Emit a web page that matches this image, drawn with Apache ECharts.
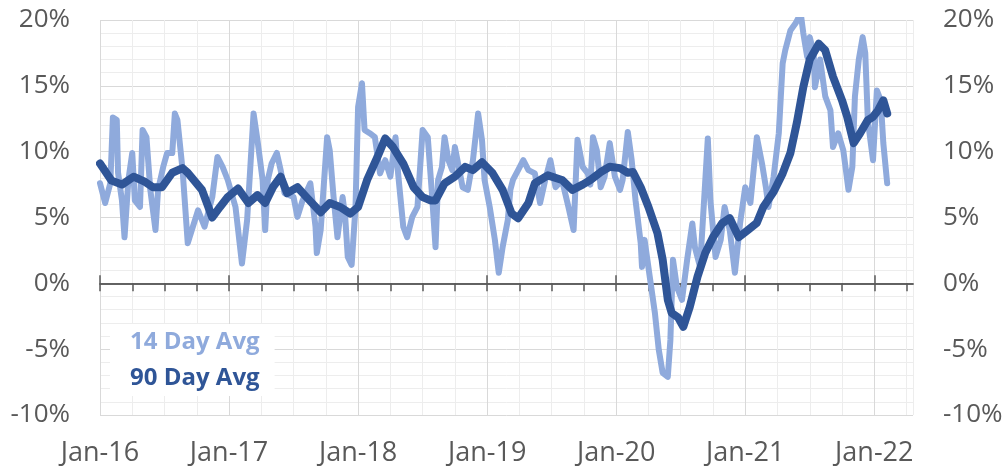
<!DOCTYPE html>
<html>
<head>
<meta charset="utf-8">
<script src="https://cdn.jsdelivr.net/npm/echarts@6/dist/echarts.min.js"></script>
<style>html,body{margin:0;padding:0;background:#fff}#c{width:1006px;height:470px}</style>
</head>
<body>
<div id="c"></div>
<script>
// Decimal-year positions and values (%)
const years14 = [2016.00,2016.04,2016.08,2016.10,2016.13,2016.14,2016.17,2016.19,2016.22,2016.25,2016.27,2016.31,2016.33,2016.36,2016.39,2016.43,2016.45,2016.49,2016.52,2016.56,2016.58,2016.60,2016.64,2016.68,2016.72,2016.76,2016.81,2016.87,2016.91,2016.95,2016.99,
2017.05,2017.10,2017.14,2017.19,2017.22,2017.26,2017.28,2017.30,2017.33,2017.37,2017.40,2017.43,2017.50,2017.53,2017.57,2017.63,2017.67,2017.68,2017.71,2017.76,2017.78,2017.81,2017.84,2017.88,2017.90,2017.92,2017.95,2017.98,
2018.00,2018.03,2018.05,2018.09,2018.13,2018.17,2018.21,2018.25,2018.29,2018.31,2018.35,2018.38,2018.42,2018.46,2018.50,2018.54,2018.57,2018.60,2018.62,2018.65,2018.67,2018.70,2018.73,2018.75,2018.78,2018.81,2018.85,2018.89,2018.93,2018.96,2018.98,
2019.02,2019.06,2019.09,2019.12,2019.16,2019.18,2019.20,2019.24,2019.28,2019.32,2019.37,2019.41,2019.45,2019.49,2019.53,2019.58,2019.63,2019.67,2019.70,2019.74,2019.78,2019.80,2019.82,2019.85,2019.88,2019.91,2019.95,2019.99,
2020.03,2020.05,2020.09,2020.12,2020.15,2020.19,2020.20,2020.22,2020.26,2020.30,2020.33,2020.36,2020.40,2020.42,2020.44,2020.47,2020.51,2020.55,2020.59,2020.61,2020.65,2020.71,2020.73,2020.77,2020.81,2020.84,2020.88,2020.92,2020.96,
2021.00,2021.04,2021.09,2021.13,2021.16,2021.18,2021.22,2021.26,2021.29,2021.31,2021.35,2021.39,2021.43,2021.45,2021.48,2021.50,2021.53,2021.54,2021.58,2021.62,2021.66,2021.68,2021.72,2021.76,2021.80,2021.83,2021.85,2021.88,2021.91,2021.93,2021.95,2021.99,
2022.02,2022.05,2022.07,2022.10];
const avg14 = [7.6,6.1,7.6,12.6,12.4,8.4,6.3,3.5,7.85,9.9,6.3,5.8,11.65,11.1,7.1,4.05,7.1,8.85,9.9,9.9,12.9,12.4,8.6,3.05,4.3,5.55,4.3,6.55,9.6,8.85,7.85,
5.8,1.5,4.8,12.9,10.9,7.85,4.05,7.85,9.1,9.9,8.6,6.85,6.55,5.05,6.3,7.6,4.3,2.3,4.05,11.1,10.1,6.55,3.5,6.55,5.05,2.0,1.4,5.8,
13.4,15.2,11.65,11.4,11.1,8.35,9.35,8.1,11.1,8.35,4.3,3.5,5.05,5.8,11.65,11.1,7.1,2.75,7.85,8.85,11.1,9.35,8.6,10.35,8.85,7.3,7.1,9.35,12.9,10.9,7.85,
5.8,3.3,0.8,2.75,4.8,7.1,7.85,8.6,9.35,8.6,8.35,6.1,7.85,9.35,7.3,7.85,5.8,4.05,10.9,8.85,8.35,7.5,11.1,10.1,7.3,8.1,10.65,8.1,
7.1,7.85,11.5,9.35,6.3,3.05,1.25,3.3,0.5,-2.25,-5.05,-6.8,-7.1,-4.3,1.8,-0.25,-1.25,1.8,4.55,2.75,1.25,11.0,6.3,2.0,3.3,5.8,4.05,0.8,4.55,
7.3,6.1,11.1,9.1,7.3,5.8,8.1,11.4,16.7,17.7,19.2,19.75,20.5,19.0,17.2,18.7,17.5,14.9,17.0,14.2,13.15,10.35,11.4,10.1,7.1,8.85,14.2,17.0,18.7,17.5,12.4,9.35,
14.65,13.9,10.65,7.6];

const years90 = [2016.00,2016.09,2016.17,2016.26,2016.35,2016.41,2016.48,2016.56,2016.64,2016.68,2016.79,2016.87,2016.93,2016.99,
2017.07,2017.15,2017.22,2017.28,2017.34,2017.40,2017.45,2017.53,2017.60,2017.71,2017.78,2017.86,2017.94,
2018.00,2018.07,2018.15,2018.21,2018.27,2018.35,2018.43,2018.50,2018.56,2018.60,2018.67,2018.75,2018.83,2018.89,2018.96,
2019.04,2019.12,2019.19,2019.24,2019.32,2019.37,2019.47,2019.58,2019.66,2019.74,2019.80,2019.88,2019.95,
2020.03,2020.09,2020.13,2020.19,2020.25,2020.32,2020.36,2020.40,2020.43,2020.48,2020.52,2020.57,2020.63,2020.69,2020.75,2020.82,2020.88,2020.95,
2021.02,2021.09,2021.14,2021.22,2021.29,2021.35,2021.40,2021.45,2021.50,2021.57,2021.62,2021.68,2021.75,2021.79,2021.84,2021.89,2021.95,2021.99,
2022.03,2022.07,2022.10];
const avg90 = [9.1,7.8,7.5,8.1,7.7,7.3,7.3,8.4,8.75,8.4,7.1,5.0,5.8,6.55,
7.2,6.1,6.7,6.1,7.3,8.1,6.85,7.3,6.55,5.4,6.1,5.8,5.3,
5.8,7.85,9.6,11.0,10.35,9.1,7.3,6.55,6.3,6.3,7.6,8.1,8.85,8.6,9.2,
8.4,7.1,5.3,4.95,6.1,7.6,8.2,7.85,7.1,7.5,7.85,8.45,8.85,
8.75,8.4,8.45,7.3,5.8,3.8,1.8,-1.25,-2.25,-2.6,-3.3,-1.8,0.5,2.3,3.5,4.55,4.95,3.5,
4.05,4.6,5.8,6.95,8.35,9.9,12.2,14.9,17.0,18.2,17.7,15.7,13.9,12.65,10.65,11.4,12.4,12.65,
13.15,13.9,12.9];

const yTicks = {min: -10, max: 20, step: 5};
const xStart = 2016, xEnd = 2022.3;
const yearTicks = [2016,2017,2018,2019,2020,2021,2022];
const quarterTicks = [];
for (let y = 2016; y <= 2022.25 + 1e-9; y += 0.25) quarterTicks.push(Math.round(y*100)/100);

const pair = (xs, ys) => xs.map((x, i) => [x, ys[i]]);
const FONT = 'Open Sans';
const AXC = '#595959';

const chart = echarts.init(document.getElementById('c'), null, {renderer: 'canvas'});
chart.setOption({
  animation: false,
  backgroundColor: '#fff',
  textStyle: {fontFamily: FONT},
  grid: {left: 100, right: 93, top: 20, bottom: 55, containLabel: false},
  legend: {
    orient: 'vertical', left: 110, top: 324,
    backgroundColor: '#fff', padding: [3, 15, 3, 15],
    itemGap: 6, itemWidth: 0, itemHeight: 14, icon: 'none',
    selectedMode: false,
    textStyle: {fontFamily: FONT, fontSize: 24, fontWeight: 'bold', lineHeight: 30},
    data: [
      {name: '14 Day Avg', textStyle: {color: '#8FAADC'}},
      {name: '90 Day Avg', textStyle: {color: '#2F5597'}}
    ]
  },
  xAxis: [
    {
      type: 'value', min: xStart, max: xEnd, interval: 0.25, position: 'bottom',
      axisLine: {show: false, onZero: false}, axisTick: {show: false},
      axisLabel: {
        interval: 0, margin: 25, color: AXC, fontSize: 27, fontFamily: FONT,
        customValues: yearTicks,
        formatter: v => (Math.abs(v - Math.round(v)) < 1e-6 ? 'Jan-' + String(Math.round(v)).slice(2) : '')
      },
      splitLine: {show: true, lineStyle: {color: ['#d9d9d9', '#ededed', '#ededed', '#ededed'], width: 1}}
    },
    {
      type: 'value', min: xStart, max: xEnd, position: 'bottom',
      axisLine: {show: true, onZero: true, lineStyle: {color: AXC, width: 1.5}},
      axisTick: {show: true, inside: false, length: 8, customValues: quarterTicks, lineStyle: {color: AXC, width: 1.5}},
      axisLabel: {show: false}, splitLine: {show: false}
    },
    {
      type: 'value', min: xStart, max: xEnd, position: 'bottom',
      axisLine: {show: true, onZero: true, lineStyle: {color: AXC, width: 1.5}},
      axisTick: {show: true, inside: true, length: 8, customValues: yearTicks, lineStyle: {color: AXC, width: 1.5}},
      axisLabel: {show: false}, splitLine: {show: false}
    }
  ],
  yAxis: [
    {
      type: 'value', position: 'left', min: yTicks.min, max: yTicks.max, interval: yTicks.step,
      axisLine: {show: false}, axisTick: {show: false},
      axisLabel: {formatter: '{value}%', margin: 30, color: AXC, fontSize: 26, fontFamily: FONT},
      splitLine: {show: true, lineStyle: {color: '#d9d9d9', width: 1}},
      minorTick: {show: false, splitNumber: 5},
      minorSplitLine: {show: true, lineStyle: {color: '#ededed', width: 1}}
    },
    {
      type: 'value', position: 'right', min: yTicks.min, max: yTicks.max, interval: yTicks.step,
      axisLine: {show: false}, axisTick: {show: false},
      axisLabel: {formatter: '{value}%', margin: 30, color: AXC, fontSize: 26, fontFamily: FONT},
      splitLine: {show: false}
    }
  ],
  series: [
    {
      name: '14 Day Avg', type: 'line', xAxisIndex: 0, yAxisIndex: 0,
      data: pair(years14, avg14), showSymbol: false, symbol: 'none', clip: true,
      lineStyle: {color: '#8FAADC', width: 6, join: 'round', cap: 'round'},
      itemStyle: {color: '#8FAADC'}, z: 2
    },
    {
      name: '90 Day Avg', type: 'line', xAxisIndex: 0, yAxisIndex: 0,
      data: pair(years90, avg90), showSymbol: false, symbol: 'none', clip: true,
      lineStyle: {color: '#2F5597', width: 8, join: 'round', cap: 'round'},
      itemStyle: {color: '#2F5597'}, z: 3
    }
  ]
});
</script>
</body>
</html>
